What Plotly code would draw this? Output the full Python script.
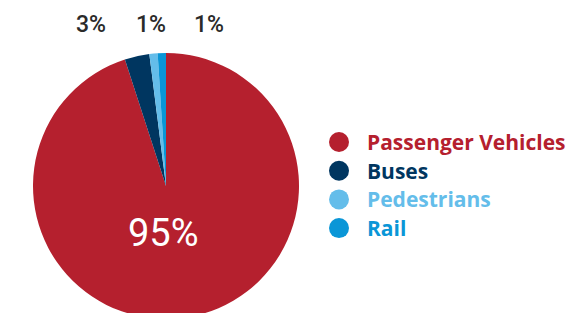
import plotly.graph_objects as go

# Data
categories = ["Passenger Vehicles", "Buses", "Pedestrians", "Rail"]
shares = [95, 3, 1, 1]
colors = ["#B5202E", "#003660", "#64BDEA", "#0A96D7"]

W, H = 583, 326  # page a bit taller than window: pie is cut off at the bottom
FONT = "Open Sans"
NUM_FONT = "Roboto"

fig = go.Figure()

fig.add_trace(go.Pie(
    labels=categories, values=shares, sort=False, direction="clockwise",
    rotation=0, marker=dict(colors=colors, line=dict(width=0)),
    textinfo="none", hoverinfo="label+percent", showlegend=False,
    domain=dict(x=[33 / W, 299 / W], y=[(H - 319) / H, (H - 53) / H]),
))

# Legend drawn as markers + labels
leg_y = [142 + i * 28.7 for i in range(len(categories))]
fig.add_trace(go.Scatter(
    x=[339] * len(categories), y=leg_y, mode="markers",
    marker=dict(size=20, color=colors), hoverinfo="skip", showlegend=False,
))
for cat, col, yy in zip(categories, colors, leg_y):
    fig.add_annotation(x=365, y=yy, xref="x", yref="y", text=f"<b>{cat}</b>",
                       showarrow=False, xanchor="left", yanchor="middle",
                       font=dict(family=FONT, size=21, color=col))

# Big share label on the main slice
fig.add_annotation(x=163, y=233, xref="x", yref="y", text=f"{shares[0]}%",
                   showarrow=False, font=dict(family=NUM_FONT, size=38, color="white"))

# Small share labels above the pie
small_x = [91, 151, 209]
for s, xx in zip(shares[1:], small_x):
    fig.add_annotation(x=xx, y=24, xref="x", yref="y", text=f"{s}%",
                       showarrow=False, font=dict(family=NUM_FONT, size=23, color="#2a2a2a", weight=500))

fig.update_xaxes(range=[0, W], visible=False, fixedrange=True)
fig.update_yaxes(range=[H, 0], visible=False, fixedrange=True)
fig.update_layout(
    width=W, height=H, margin=dict(l=0, r=0, t=0, b=0),
    paper_bgcolor="white", plot_bgcolor="rgba(0,0,0,0)",
)

fig.write_html("out.html", config={"displayModeBar": False},
               post_script="document.body.style.margin='0';document.body.style.overflow='hidden';")
